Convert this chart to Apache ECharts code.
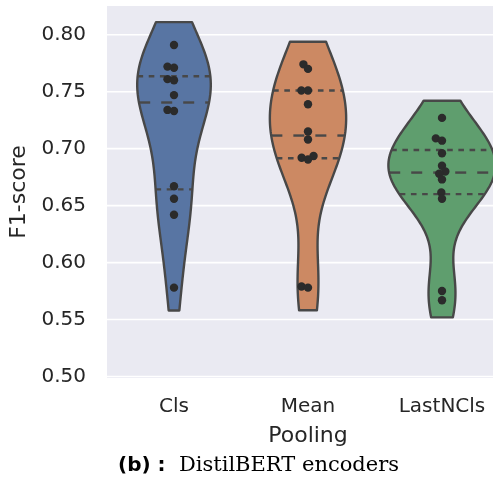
<!DOCTYPE html>
<html>
<head>
<meta charset="utf-8">
<script src="https://cdn.jsdelivr.net/npm/echarts@6/dist/echarts.min.js"></script>
<style>
  html, body { margin: 0; padding: 0; background: #ffffff; }
  #chart { width: 493px; height: 482px; }
</style>
</head>
<body>
<div id="chart"></div>
<script>
// F1-scores per pooling strategy (one value per run)
const categories = ['Cls', 'Mean', 'LastNCls'];
const clsScores = [0.791, 0.772, 0.771, 0.761, 0.760, 0.747, 0.734, 0.733, 0.667, 0.656, 0.642, 0.578];
const meanScores = [0.774, 0.770, 0.751, 0.751, 0.739, 0.715, 0.708, 0.6935, 0.692, 0.6905, 0.579, 0.578];
const lastNClsScores = [0.727, 0.709, 0.707, 0.696, 0.685, 0.680, 0.678, 0.673, 0.6615, 0.656, 0.575, 0.567];
const yTicks = [0.50, 0.55, 0.60, 0.65, 0.70, 0.75, 0.80];
const yRange = [0.4987, 0.8252];

const groups = [clsScores, meanScores, lastNClsScores];
const fillColors = ['#5875a3', '#cc8963', '#5f9e6e'];
const edgeColor = '#484848';

// ---- kernel density estimate (gaussian, Scott bandwidth), cut = 0.5 bandwidths ----
function stats(vals) {
  const n = vals.length;
  const mean = vals.reduce((a, b) => a + b, 0) / n;
  const sd = Math.sqrt(vals.reduce((a, v) => a + (v - mean) * (v - mean), 0) / (n - 1));
  return { n, mean, sd };
}
function percentile(vals, p) {
  const s = vals.slice().sort((a, b) => a - b);
  const pos = (s.length - 1) * p;
  const lo = Math.floor(pos), hi = Math.ceil(pos);
  return s[lo] + (s[hi] - s[lo]) * (pos - lo);
}
function kde(vals, cut, gridsize) {
  const st = stats(vals);
  const bw = Math.pow(st.n, -0.2) * st.sd;
  const lo = Math.min(...vals) - cut * bw;
  const hi = Math.max(...vals) + cut * bw;
  const support = [], density = [];
  for (let i = 0; i < gridsize; i++) {
    const y = lo + (hi - lo) * i / (gridsize - 1);
    let s = 0;
    for (const v of vals) { const z = (y - v) / bw; s += Math.exp(-0.5 * z * z); }
    support.push(y);
    density.push(s / (st.n * bw * Math.sqrt(2 * Math.PI)));
  }
  return { support, density };
}
const profiles = groups.map(g => kde(g, 0.5, 100));
// equal-area scaling: every violin shares the same density scale
const maxDensity = Math.max(...profiles.map(p => Math.max(...p.density)));
profiles.forEach(p => { p.density = p.density.map(d => d / maxDensity); });
const quartiles = groups.map(g => [percentile(g, 0.25), percentile(g, 0.5), percentile(g, 0.75)]);

function densityAt(p, val) {
  let best = 0, bd = Infinity;
  p.support.forEach((s, i) => { const d = Math.abs(s - val); if (d < bd) { bd = d; best = i; } });
  return p.density[best];
}

// ---- beeswarm layout in pixel space ----
const SWARM_D = 6.3;
function swarmOffsets(pys) {
  const order = pys.map((y, i) => i).sort((a, b) => pys[b] - pys[a]);
  const placed = [];
  const off = new Array(pys.length).fill(0);
  for (const i of order) {
    const y = pys[i];
    const neigh = placed.filter(p => Math.abs(p.y - y) < SWARM_D);
    const cands = [0];
    neigh.forEach(p => {
      const dx = Math.sqrt(Math.max(SWARM_D * SWARM_D - (p.y - y) * (p.y - y), 0)) * 1.05;
      cands.push(p.x - dx, p.x + dx);
    });
    cands.sort((a, b) => (Math.abs(a) - Math.abs(b)) || (a - b));
    let x = cands.find(c => neigh.every(p => (p.x - c) * (p.x - c) + (p.y - y) * (p.y - y) >= SWARM_D * SWARM_D * 0.999));
    if (x === undefined) x = 0;
    placed.push({ x, y });
    off[i] = x;
  }
  return off;
}

const swarmData = [];
groups.forEach((g, ci) => g.forEach((v, pi) => swarmData.push([ci, v, pi])));

const chart = echarts.init(document.getElementById('chart'), null, { renderer: 'canvas' });

const LINE_W = 2.4;

chart.setOption({
  animation: false,
  backgroundColor: '#ffffff',
  textStyle: { fontFamily: 'DejaVu Sans' },
  grid: {
    left: 107, top: 6, right: -16, bottom: 104,
    show: true, backgroundColor: '#eaeaf2', borderWidth: 0,
    containLabel: false, outerBoundsMode: 'none'
  },
  xAxis: {
    type: 'category',
    data: categories,
    boundaryGap: true,
    axisLine: { show: false },
    axisTick: { show: false },
    splitLine: { show: false },
    axisLabel: { color: '#262626', fontSize: 20, margin: 19, fontFamily: 'DejaVu Sans' },
    name: 'Pooling',
    nameLocation: 'middle',
    nameGap: 47,
    nameTextStyle: { color: '#262626', fontSize: 22, fontFamily: 'DejaVu Sans' }
  },
  yAxis: {
    type: 'value',
    min: yRange[0],
    max: yRange[1],
    axisLine: { show: false },
    axisTick: { show: false, customValues: yTicks },
    splitLine: { show: false },
    axisLabel: {
      color: '#262626', fontSize: 20, margin: 21, fontFamily: 'DejaVu Sans',
      customValues: yTicks,
      formatter: v => v.toFixed(2)
    },
    name: 'F1-score',
    nameLocation: 'middle',
    nameRotate: 90,
    nameGap: 77,
    nameTextStyle: { color: '#262626', fontSize: 22, fontFamily: 'DejaVu Sans' }
  },
  graphic: [{
    type: 'text',
    left: 118,
    top: 455,
    style: {
      text: '{b|(b) :}{n|  DistilBERT encoders}',
      rich: {
        b: { fontFamily: 'DejaVu Sans', fontWeight: 'bold', fontSize: 20, fill: '#000000' },
        n: { fontFamily: 'DejaVu Serif', fontSize: 21, fill: '#000000' }
      }
    }
  }],
  series: [
    {
      // horizontal grid lines
      type: 'custom',
      z: 1,
      silent: true,
      data: yTicks.map(v => [v]),
      renderItem: (params, api) => {
        const cs = params.coordSys;
        const y = api.coord([0, api.value(0)])[1];
        return {
          type: 'line',
          shape: { x1: cs.x, y1: y, x2: cs.x + cs.width, y2: y },
          style: { stroke: '#ffffff', lineWidth: 1.6 }
        };
      }
    },
    {
      // violins with quartile lines
      type: 'custom',
      z: 2,
      silent: true,
      data: categories.map((c, i) => [i]),
      renderItem: (params, api) => {
        const ci = api.value(0);
        const p = profiles[ci];
        const band = api.size([1, 0])[0];
        const half = 0.4 * band;
        const cx = api.coord([ci, 0])[0];
        const left = [], right = [];
        p.support.forEach((s, i) => {
          const y = api.coord([ci, s])[1];
          const w = p.density[i] * half;
          left.push([cx - w, y]);
          right.push([cx + w, y]);
        });
        const pts = left.concat(right.reverse());
        const children = [{
          type: 'polygon',
          shape: { points: pts },
          style: { fill: fillColors[ci], stroke: edgeColor, lineWidth: LINE_W, lineJoin: 'round' }
        }];
        quartiles[ci].forEach((q, qi) => {
          const y = api.coord([ci, q])[1];
          const w = densityAt(p, q) * half;
          const dash = qi === 1 ? [11, 11] : [5.6, 5.6];
          children.push({
            type: 'line',
            shape: { x1: cx - w, y1: y, x2: cx + w, y2: y },
            style: { stroke: edgeColor, lineWidth: LINE_W, lineDash: dash }
          });
        });
        return { type: 'group', children };
      }
    },
    {
      // individual runs as a beeswarm
      type: 'custom',
      z: 3,
      silent: true,
      data: swarmData,
      renderItem: (params, api) => {
        const ci = api.value(0);
        const pi = api.value(2);
        const pys = groups[ci].map(v => api.coord([ci, v])[1]);
        const offs = swarmOffsets(pys);
        const cx = api.coord([ci, 0])[0];
        return {
          type: 'circle',
          shape: { cx: cx + offs[pi], cy: pys[pi], r: 4.2 },
          style: { fill: '#2b2b2b' }
        };
      }
    }
  ]
});
</script>
</body>
</html>
